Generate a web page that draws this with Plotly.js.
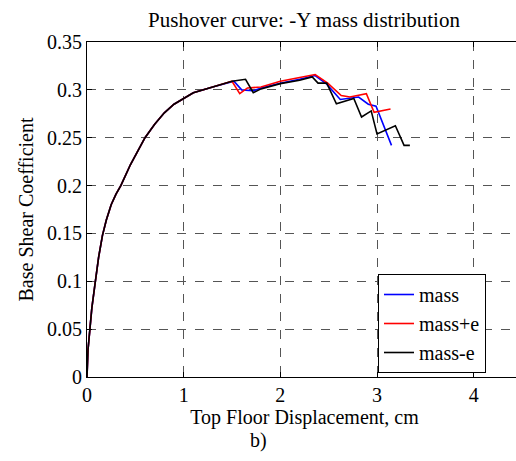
<!DOCTYPE html>
<html>
<head>
<meta charset="utf-8">
<script src="https://cdn.plot.ly/plotly-3.0.1.min.js"></script>
<style>
html,body{margin:0;padding:0;overflow:hidden;background:#fff;}
#chart{width:540px;height:461px;}
#chart svg text{font-family:'Liberation Serif', serif !important;}
</style>
</head>
<body>
<div id="chart"></div>
<script>
// Shared elastic branch
const baseX = [0, 0.01, 0.03, 0.05, 0.08, 0.12, 0.16, 0.2, 0.25, 0.3, 0.35, 0.45, 0.6, 0.7, 0.8, 0.9, 1.0, 1.1, 1.3];
const baseY = [0, 0.028, 0.05, 0.072, 0.095, 0.125, 0.148, 0.164, 0.18, 0.191, 0.2, 0.222, 0.25, 0.264, 0.276, 0.285, 0.291, 0.297, 0.303];

const massX = [1.5, 1.52, 1.6, 1.72, 1.8, 2.0, 2.2, 2.36, 2.48, 2.62, 2.81, 2.91, 2.99, 3.15];
const massY = [0.309, 0.309, 0.300, 0.299, 0.302, 0.307, 0.311, 0.315, 0.306, 0.290, 0.2925, 0.285, 0.283, 0.242];

const massPlusX = [1.5, 1.58, 1.66, 1.8, 2.0, 2.2, 2.36, 2.49, 2.63, 2.72, 2.89, 2.97, 3.14];
const massPlusY = [0.309, 0.296, 0.302, 0.303, 0.309, 0.313, 0.316, 0.307, 0.294, 0.2925, 0.296, 0.2765, 0.280];

const massMinusX = [1.5, 1.64, 1.72, 1.8, 2.0, 2.2, 2.33, 2.39, 2.48, 2.58, 2.76, 2.84, 2.94, 3.0, 3.19, 3.28, 3.34];
const massMinusY = [0.309, 0.311, 0.297, 0.301, 0.3065, 0.310, 0.3135, 0.307, 0.307, 0.2855, 0.291, 0.2716, 0.278, 0.254, 0.2625, 0.242, 0.242];

const seriesNames = ['mass', 'mass+e', 'mass-e'];
const seriesColors = ['#0000ff', '#ff0000', '#000000'];

const xTicks = [0, 1, 2, 3, 4];
const yTicks = [0, 0.05, 0.1, 0.15, 0.2, 0.25, 0.3, 0.35];
const yTickText = ['0', '0.05', '0.1', '0.15', '0.2', '0.25', '0.3', '0.35'];

const FONT = 'Liberation Serif';
const FS = 20;

const xs = [massX, massPlusX, massMinusX];
const ys = [massY, massPlusY, massMinusY];
const traces = xs.map((xx, i) => ({
  x: baseX.concat(xx),
  y: baseY.concat(ys[i]),
  type: 'scatter',
  mode: 'lines',
  name: seriesNames[i],
  line: {color: seriesColors[i], width: 1.6, shape: 'linear'}
}));

const axisCommon = {
  showline: true, linecolor: '#000', linewidth: 1, mirror: 'ticks',
  ticks: 'inside', ticklen: 5, tickcolor: '#000',
  showgrid: true, gridcolor: '#555', gridwidth: 1, griddash: 'dash',
  zeroline: false,
  tickfont: {family: FONT, size: FS, color: '#000'}
};

const L = 87, R = 18, T = 42, B = 84, W = 540, H = 461;
const pw = W - L - R, ph = H - T - B;

const layout = {
  width: W, height: H,
  margin: {l: L, r: R, t: T, b: B},
  paper_bgcolor: '#fff', plot_bgcolor: '#fff',
  font: {family: FONT, size: FS, color: '#000'},
  title: {text: 'Pushover curve: -Y mass distribution', font: {family: FONT, size: 21, color: '#000'},
          x: 304/W, xanchor: 'center', xref: 'container', y: 1 - 20/H, yanchor: 'middle', yref: 'container'},
  xaxis: Object.assign({}, axisCommon, {range: [0, 4.5], tickvals: xTicks, ticktext: xTicks.map(String),
          title: {text: 'Top Floor Displacement, cm', font: {family: FONT, size: FS, color: '#000'}, standoff: 2}}),
  yaxis: Object.assign({}, axisCommon, {range: [0, 0.35], tickvals: yTicks, ticktext: yTickText,
          title: {text: 'Base Shear Coefficient', font: {family: FONT, size: FS, color: '#000'}, standoff: 8}}),
  showlegend: true,
  legend: {x: (378 - L) / pw, y: (T + ph - 274) / ph, xanchor: 'left', yanchor: 'top', bgcolor: '#fff', bordercolor: '#000', borderwidth: 1,
           font: {family: FONT, size: FS, color: '#000'}, tracegroupgap: 0},
  annotations: [{text: 'b)', xref: 'paper', yref: 'paper', showarrow: false,
                 x: (258 - L) / pw, y: (T + ph - 440) / ph,
                 font: {family: FONT, size: FS, color: '#000'}, xanchor: 'center', yanchor: 'middle'}]
};

Plotly.newPlot('chart', traces, layout, {displayModeBar: false, staticPlot: true});
</script>
</body>
</html>
